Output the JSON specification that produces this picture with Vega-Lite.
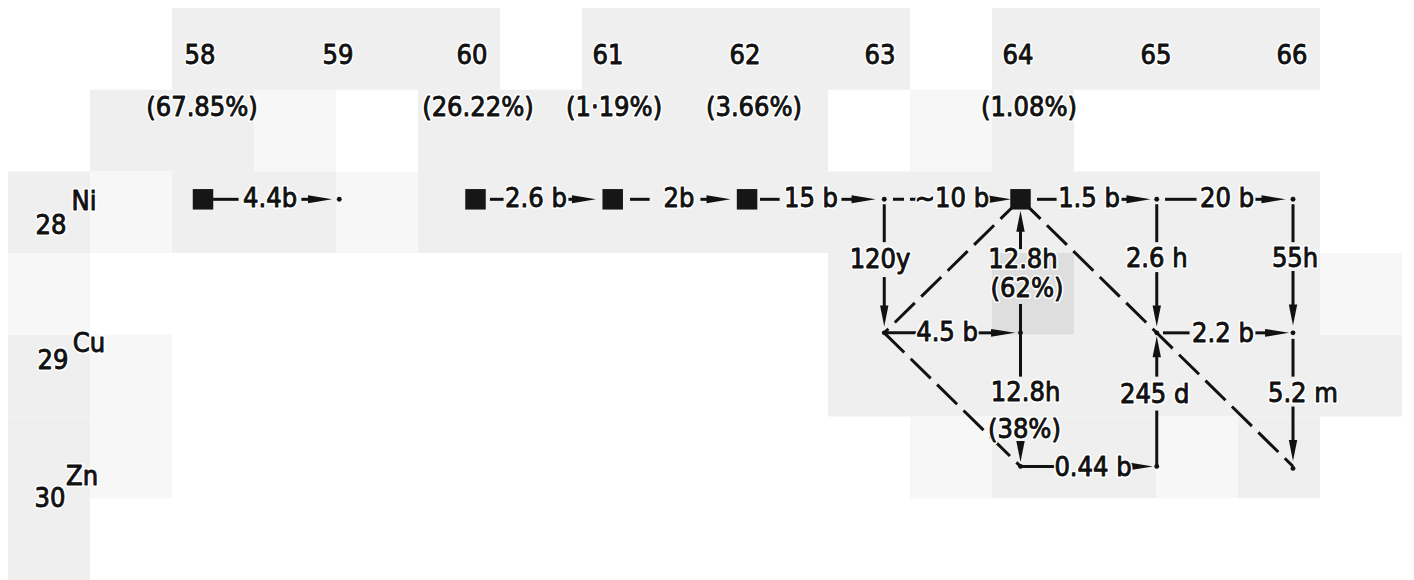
{
  "$schema": "https://vega.github.io/schema/vega-lite/v6.json",
  "width": 1414,
  "height": 580,
  "autosize": {"type": "fit", "contains": "padding"},
  "padding": 0,
  "background": "white",
  "config": {"view": {"stroke": null}},
  "datasets": {
    "cells": [
      {"c0": 2, "c1": 6, "r0": 0, "r1": 1, "tone": "g"},
      {"c0": 7, "c1": 11, "r0": 0, "r1": 1, "tone": "g"},
      {"c0": 12, "c1": 16, "r0": 0, "r1": 1, "tone": "g"},
      {"c0": 1, "c1": 3, "r0": 1, "r1": 2, "tone": "g"},
      {"c0": 3, "c1": 4, "r0": 1, "r1": 2, "tone": "l"},
      {"c0": 5, "c1": 10, "r0": 1, "r1": 2, "tone": "g"},
      {"c0": 11, "c1": 12, "r0": 1, "r1": 2, "tone": "l"},
      {"c0": 12, "c1": 13, "r0": 1, "r1": 2, "tone": "g"},
      {"c0": 0, "c1": 1, "r0": 2, "r1": 3, "tone": "g"},
      {"c0": 1, "c1": 2, "r0": 2, "r1": 3, "tone": "l"},
      {"c0": 2, "c1": 4, "r0": 2, "r1": 3, "tone": "g"},
      {"c0": 4, "c1": 5, "r0": 2, "r1": 3, "tone": "l"},
      {"c0": 5, "c1": 16, "r0": 2, "r1": 3, "tone": "g"},
      {"c0": 0, "c1": 1, "r0": 3, "r1": 4, "tone": "l"},
      {"c0": 10, "c1": 12, "r0": 3, "r1": 4, "tone": "g"},
      {"c0": 12, "c1": 13, "r0": 3, "r1": 4, "tone": "d"},
      {"c0": 13, "c1": 16, "r0": 3, "r1": 4, "tone": "g"},
      {"c0": 16, "c1": 17, "r0": 3, "r1": 4, "tone": "l"},
      {"c0": 0, "c1": 1, "r0": 4, "r1": 5, "tone": "g"},
      {"c0": 1, "c1": 2, "r0": 4, "r1": 5, "tone": "l"},
      {"c0": 10, "c1": 17, "r0": 4, "r1": 5, "tone": "g"},
      {"c0": 0, "c1": 1, "r0": 5, "r1": 6, "tone": "g"},
      {"c0": 1, "c1": 2, "r0": 5, "r1": 6, "tone": "l"},
      {"c0": 11, "c1": 12, "r0": 5, "r1": 6, "tone": "l"},
      {"c0": 12, "c1": 14, "r0": 5, "r1": 6, "tone": "g"},
      {"c0": 14, "c1": 15, "r0": 5, "r1": 6, "tone": "l"},
      {"c0": 15, "c1": 16, "r0": 5, "r1": 6, "tone": "g"},
      {"c0": 0, "c1": 1, "r0": 6, "r1": 7, "tone": "g"}
    ],
    "lines": [
      {"a": 58.073, "z": 28, "a2": 58.261, "z2": 28},
      {"a": 58.722, "z": 28, "a2": 58.8, "z2": 28},
      {"a": 60.106, "z": 28, "a2": 60.206, "z2": 28},
      {"a": 60.682, "z": 28, "a2": 60.75, "z2": 28},
      {"a": 61.134, "z": 28, "a2": 61.278, "z2": 28},
      {"a": 61.651, "z": 28, "a2": 61.73, "z2": 28},
      {"a": 62.088, "z": 28, "a2": 62.232, "z2": 28},
      {"a": 62.686, "z": 28, "a2": 62.78, "z2": 28},
      {"a": 63.742, "z": 28, "a2": 63.8, "z2": 28},
      {"a": 64.121, "z": 28, "a2": 64.265, "z2": 28},
      {"a": 64.741, "z": 28, "a2": 64.8, "z2": 28},
      {"a": 65.061, "z": 28, "a2": 65.292, "z2": 28},
      {"a": 65.724, "z": 28, "a2": 65.79, "z2": 28},
      {"a": 63.0, "z": 29, "a2": 63.237, "z2": 29},
      {"a": 63.676, "z": 29, "a2": 63.8, "z2": 29},
      {"a": 65.046, "z": 29, "a2": 65.241, "z2": 29},
      {"a": 65.724, "z": 29, "a2": 65.84, "z2": 29},
      {"a": 64.0, "z": 30, "a2": 64.25, "z2": 30},
      {"a": 63, "z": 28.037, "a2": 63, "z2": 28.321},
      {"a": 63, "z": 28.582, "a2": 63, "z2": 28.83},
      {"a": 64, "z": 28.784, "a2": 64, "z2": 29.0},
      {"a": 64, "z": 28.2, "a2": 64, "z2": 28.373},
      {"a": 64, "z": 29.0, "a2": 64, "z2": 29.328},
      {"a": 65, "z": 28.037, "a2": 65, "z2": 28.321},
      {"a": 65, "z": 28.545, "a2": 65, "z2": 28.83},
      {"a": 65, "z": 29.582, "a2": 65, "z2": 30.0},
      {"a": 65, "z": 29.14, "a2": 65, "z2": 29.328},
      {"a": 66, "z": 28.037, "a2": 66, "z2": 28.321},
      {"a": 66, "z": 28.537, "a2": 66, "z2": 28.83},
      {"a": 66, "z": 29.045, "a2": 66, "z2": 29.328},
      {"a": 66, "z": 29.552, "a2": 66, "z2": 29.84}
    ],
    "diag": [
      {"a": 64, "z": 28, "a2": 63, "z2": 29},
      {"a": 63, "z": 29, "a2": 64, "z2": 30},
      {"a": 64, "z": 28, "a2": 66, "z2": 30}
    ],
    "shortdash": [
      {"a": 63.064, "z": 28, "a2": 63.26, "z2": 28}
    ],
    "rightheads": [
      {"a": 58.859, "z": 28},
      {"a": 60.796, "z": 28},
      {"a": 61.784, "z": 28},
      {"a": 62.848, "z": 28},
      {"a": 63.842, "z": 28},
      {"a": 64.866, "z": 28},
      {"a": 65.857, "z": 28},
      {"a": 63.872, "z": 29},
      {"a": 65.883, "z": 29},
      {"a": 64.884, "z": 30}
    ],
    "downheads": [
      {"a": 63, "z": 28.873},
      {"a": 64, "z": 29.888},
      {"a": 65, "z": 28.873},
      {"a": 66, "z": 28.866},
      {"a": 66, "z": 29.881}
    ],
    "upheads": [
      {"a": 64, "z": 28.164},
      {"a": 65, "z": 29.104}
    ],
    "dots": [
      {"a": 59, "z": 28},
      {"a": 63, "z": 28},
      {"a": 65, "z": 28},
      {"a": 66, "z": 28},
      {"a": 63, "z": 29},
      {"a": 64, "z": 29},
      {"a": 65, "z": 29},
      {"a": 66, "z": 29},
      {"a": 64, "z": 30},
      {"a": 65, "z": 30},
      {"a": 66, "z": 30.015}
    ],
    "stable": [
      {"a": 58, "z": 28},
      {"a": 60, "z": 28},
      {"a": 61.007, "z": 28},
      {"a": 61.993, "z": 28},
      {"a": 64, "z": 28}
    ],
    "labels": [
      {"a": 57.978, "z": 26.925, "t": "58"},
      {"a": 58.991, "z": 26.925, "t": "59"},
      {"a": 59.974, "z": 26.925, "t": "60"},
      {"a": 60.972, "z": 26.925, "t": "61"},
      {"a": 61.978, "z": 26.925, "t": "62"},
      {"a": 62.969, "z": 26.925, "t": "63"},
      {"a": 63.982, "z": 26.925, "t": "64"},
      {"a": 64.994, "z": 26.925, "t": "65"},
      {"a": 65.993, "z": 26.925, "t": "66"},
      {"a": 57.993, "z": 27.313, "t": "(67.85%)"},
      {"a": 60.018, "z": 27.313, "t": "(26.22%)"},
      {"a": 61.017, "z": 27.313, "t": "(1·19%)"},
      {"a": 62.044, "z": 27.313, "t": "(3.66%)"},
      {"a": 64.062, "z": 27.313, "t": "(1.08%)"},
      {"a": 57.127, "z": 28.022, "t": "Ni"},
      {"a": 56.884, "z": 28.201, "t": "28"},
      {"a": 57.163, "z": 29.082, "t": "Cu"},
      {"a": 56.899, "z": 29.209, "t": "29"},
      {"a": 57.112, "z": 30.082, "t": "Zn"},
      {"a": 56.877, "z": 30.246, "t": "30"},
      {"a": 58.492, "z": 28, "t": "4.4b"},
      {"a": 60.444, "z": 28, "t": "2.6 b"},
      {"a": 61.494, "z": 28, "t": "2b"},
      {"a": 62.462, "z": 28, "t": "15 b"},
      {"a": 63.497, "z": 28, "t": "~10 b"},
      {"a": 64.503, "z": 28, "t": "1.5 b"},
      {"a": 65.516, "z": 28, "t": "20 b"},
      {"a": 63.461, "z": 29, "t": "4.5 b"},
      {"a": 65.486, "z": 29.007, "t": "2.2 b"},
      {"a": 64.532, "z": 30.015, "t": "0.44 b"},
      {"a": 62.969, "z": 28.455, "t": "120y"},
      {"a": 64.018, "z": 28.455, "t": "12.8h"},
      {"a": 64.048, "z": 28.672, "t": "(62%)"},
      {"a": 64.037, "z": 29.448, "t": "12.8h"},
      {"a": 64.029, "z": 29.724, "t": "(38%)"},
      {"a": 65.0, "z": 28.448, "t": "2.6 h"},
      {"a": 64.985, "z": 29.463, "t": "245 d"},
      {"a": 66.015, "z": 28.448, "t": "55h"},
      {"a": 66.073, "z": 29.455, "t": "5.2 m"}
    ]
  },
  "resolve": {"scale": {"x": "independent", "y": "independent"}},
  "layer": [
    {
      "data": {"name": "cells"},
      "mark": {"type": "rect", "strokeWidth": 0},
      "encoding": {
        "x": {"field": "c0", "type": "quantitative", "scale": {"domain": [-0.09756, 17.14634], "nice": false, "zero": false}, "axis": null},
        "x2": {"field": "c1"},
        "y": {"field": "r0", "type": "quantitative", "scale": {"domain": [-0.09756, 6.97561], "nice": false, "zero": false, "reverse": true}, "axis": null},
        "y2": {"field": "r1"},
        "color": {"field": "tone", "type": "nominal", "scale": {"domain": ["g", "l", "d"], "range": ["#efefef", "#f7f7f7", "#dedede"]}, "legend": null}
      }
    },
    {
      "encoding": {
        "x": {"field": "a", "type": "quantitative", "scale": {"domain": [56.5101, 66.888], "nice": false, "zero": false}, "axis": null},
        "y": {"field": "z", "type": "quantitative", "scale": {"domain": [26.5075, 30.8358], "nice": false, "zero": false, "reverse": true}, "axis": null}
      },
      "layer": [
        {
          "data": {"name": "lines"},
          "mark": {"type": "rule", "strokeWidth": 3, "color": "#111111"},
          "encoding": {"x2": {"field": "a2"}, "y2": {"field": "z2"}}
        },
        {
          "data": {"name": "diag"},
          "mark": {"type": "rule", "strokeWidth": 3, "color": "#111111", "strokeDash": [28, 9]},
          "encoding": {"x2": {"field": "a2"}, "y2": {"field": "z2"}}
        },
        {
          "data": {"name": "shortdash"},
          "mark": {"type": "rule", "strokeWidth": 3, "color": "#111111", "strokeDash": [11, 6]},
          "encoding": {"x2": {"field": "a2"}, "y2": {"field": "z2"}}
        },
        {
          "data": {"name": "rightheads"},
          "mark": {"type": "point", "filled": true, "color": "#111111", "opacity": 1, "strokeWidth": 0, "shape": "M-1,-0.33L1,0L-1,0.33Z", "size": 576, "angle": 0},
          "encoding": {}
        },
        {
          "data": {"name": "downheads"},
          "mark": {"type": "point", "filled": true, "color": "#111111", "opacity": 1, "strokeWidth": 0, "shape": "M-1,-0.4L1,0L-1,0.4Z", "size": 441, "angle": 90},
          "encoding": {}
        },
        {
          "data": {"name": "upheads"},
          "mark": {"type": "point", "filled": true, "color": "#111111", "opacity": 1, "strokeWidth": 0, "shape": "M-1,-0.4L1,0L-1,0.4Z", "size": 441, "angle": 270},
          "encoding": {}
        },
        {
          "data": {"name": "dots"},
          "mark": {"type": "point", "filled": true, "color": "#111111", "opacity": 1, "shape": "circle", "size": 24},
          "encoding": {}
        },
        {
          "data": {"name": "stable"},
          "mark": {"type": "point", "filled": true, "color": "#161616", "opacity": 1, "shape": "square", "size": 420},
          "encoding": {}
        },
        {
          "data": {"name": "labels"},
          "mark": {"type": "text", "font": "DejaVu Sans Condensed, Liberation Sans Narrow, DejaVu Sans", "fontSize": 27, "fontWeight": "normal", "align": "center", "baseline": "middle", "color": "white", "stroke": "white", "strokeWidth": 4, "strokeJoin": "round"},
          "encoding": {"text": {"field": "t", "type": "nominal"}}
        },
        {
          "data": {"name": "labels"},
          "mark": {"type": "text", "font": "DejaVu Sans Condensed, Liberation Sans Narrow, DejaVu Sans", "fontSize": 27, "fontWeight": "normal", "align": "center", "baseline": "middle", "color": "#111111", "stroke": "#111111", "strokeWidth": 0.9, "strokeJoin": "round"},
          "encoding": {"text": {"field": "t", "type": "nominal"}}
        }
      ]
    }
  ]
}
